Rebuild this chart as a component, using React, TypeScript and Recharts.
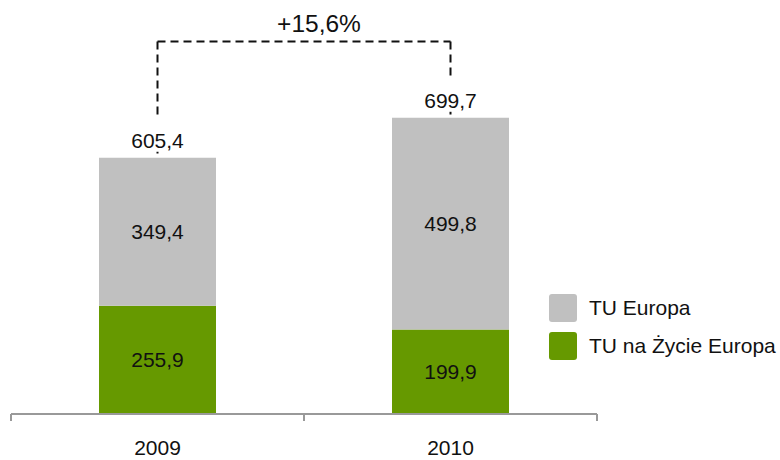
import { BarChart, Bar, XAxis, YAxis, Legend, LabelList, ReferenceLine } from "recharts";

const YEARS = ["2009", "2010"];
const TU_NA_ZYCIE = [255.9, 199.9];
const TU_EUROPA = [349.4, 499.8];
const TOTALS = [605.4, 699.7];
const GROWTH = "+15,6%";
const BRACKET_LEVEL = 880;

const GREEN = "#669900";
const GRAY = "#c0c0c0";
const FONT = "'Liberation Sans', Arial, sans-serif";

const data = YEARS.map((year, i) => ({
  year,
  zycie: TU_NA_ZYCIE[i],
  europa: TU_EUROPA[i],
  total: TOTALS[i],
}));

const fmt = (v: number) => v.toFixed(1).replace(".", ",");

function YearTick(props: any) {
  const { x, y, payload, index } = props;
  const half = payload.offset ?? 146;
  return (
    <g>
      <line x1={x - half} x2={x - half} y1={y} y2={y + 7} stroke="#999" strokeWidth={2} />
      {index === YEARS.length - 1 && (
        <line x1={x + half} x2={x + half} y1={y} y2={y + 7} stroke="#999" strokeWidth={2} />
      )}
      <text x={x} y={y + 41} textAnchor="middle" fontSize={21} fill="#111" fontFamily={FONT}>
        {payload.value}
      </text>
    </g>
  );
}

function TotalLabel(props: any) {
  const { x, y, width, value } = props;
  const cx = x + width / 2;
  const base = y - 10;
  return (
    <g>
      <rect x={cx - 36} y={base - 30} width={72} height={34} fill="#fff" />
      <text x={cx} y={base} textAnchor="middle" fontSize={21} fill="#111" fontFamily={FONT}>
        {fmt(value)}
      </text>
    </g>
  );
}

function GrowthLabel(props: any) {
  const { viewBox } = props;
  const cx = viewBox.x + viewBox.width / 2 + 15;
  return (
    <text x={cx} y={viewBox.y - 9} textAnchor="middle" fontSize={24.5} fill="#111" fontFamily={FONT}>
      {GROWTH}
    </text>
  );
}

// TU Europa (grey) listed first, like the stacked order seen from the top
function LegendBox(props: any) {
  const items = [...(props.payload || [])].sort((a: any, b: any) =>
    a.value === "TU Europa" ? -1 : b.value === "TU Europa" ? 1 : 0
  );
  return (
    <div>
      {items.map((it: any) => (
        <div key={it.value} style={{ display: "flex", alignItems: "center", height: 38 }}>
          <span style={{ width: 28, height: 28, background: it.color, borderRadius: 3, marginRight: 12 }} />
          <span style={{ fontSize: 21, color: "#111", fontFamily: FONT, whiteSpace: "nowrap" }}>{it.value}</span>
        </div>
      ))}
    </div>
  );
}

const dash = { stroke: "#111", strokeWidth: 2, strokeDasharray: "8 5" };

export default function App() {
  return (
    <div style={styles.wrap}>
      <BarChart width={780} height={460} data={data} margin={{ top: 33, right: 183, bottom: 6, left: 11 }}>
        <XAxis
          dataKey="year"
          height={40}
          axisLine={{ stroke: "#999", strokeWidth: 2 }}
          tickLine={false}
          tickSize={0}
          tickMargin={0}
          tick={<YearTick />}
        />
        <YAxis hide domain={[0, 900]} />
        <ReferenceLine
          segment={[{ x: YEARS[0], y: BRACKET_LEVEL }, { x: YEARS[1], y: BRACKET_LEVEL }]}
          {...dash}
          label={<GrowthLabel />}
        />
        <ReferenceLine segment={[{ x: YEARS[0], y: BRACKET_LEVEL }, { x: YEARS[0], y: TOTALS[0] }]} {...dash} />
        <ReferenceLine segment={[{ x: YEARS[1], y: BRACKET_LEVEL }, { x: YEARS[1], y: TOTALS[1] }]} {...dash} />
        <Legend
          layout="vertical"
          align="center"
          verticalAlign="middle"
          content={<LegendBox />}
          wrapperStyle={{ left: 549, top: 289, width: 231 }}
        />
        <Bar dataKey="zycie" name="TU na Życie Europa" stackId="a" fill={GREEN} barSize={117} isAnimationActive={false}>
          <LabelList dataKey="zycie" position="center" formatter={(v: any) => fmt(v)} fill="#111" fontSize={21} fontFamily={FONT} />
        </Bar>
        <Bar dataKey="europa" name="TU Europa" stackId="a" fill={GRAY} barSize={117} isAnimationActive={false}>
          <LabelList dataKey="europa" position="center" formatter={(v: any) => fmt(v)} fill="#111" fontSize={21} fontFamily={FONT} />
          <LabelList dataKey="total" content={<TotalLabel />} />
        </Bar>
      </BarChart>
    </div>
  );
}

const styles: Record<string, React.CSSProperties> = {
  wrap: { position: "absolute", left: 0, top: 0, width: 780, height: 460, background: "#fff", fontFamily: FONT },
};
